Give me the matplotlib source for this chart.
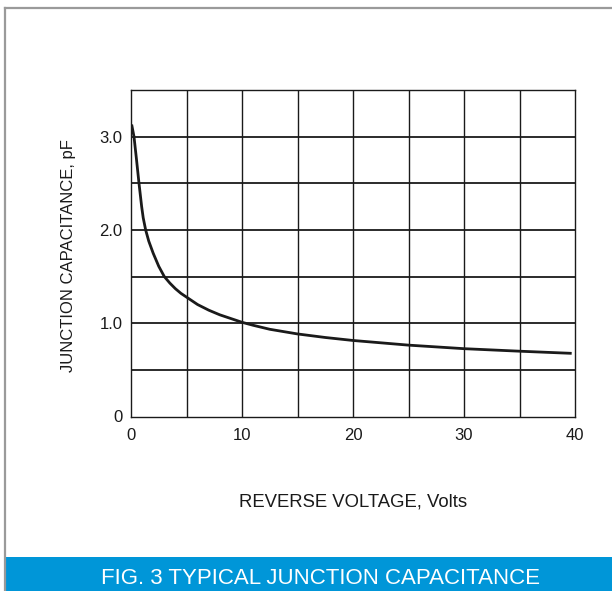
import matplotlib
matplotlib.use("Agg")
import matplotlib.pyplot as plt
from matplotlib.patches import Rectangle
from matplotlib.lines import Line2D

# Data
voltage = [0.06, 0.27, 0.5, 0.72, 0.96, 1.1, 1.32, 1.6, 2.0, 2.5, 3.0, 3.5, 4.0, 4.5,
           5.0, 5.5, 6.0, 7.0, 8.0, 9.0, 10.0, 11.0, 12.5, 15.0, 17.5, 20.0, 25.0,
           30.0, 35.0, 39.7]
capacitance = [3.13, 3.0, 2.75, 2.5, 2.25, 2.13, 2.0, 1.88, 1.75, 1.61, 1.5, 1.43,
               1.37, 1.32, 1.28, 1.24, 1.2, 1.14, 1.09, 1.05, 1.01, 0.978, 0.935, 0.885,
               0.847, 0.815, 0.765, 0.727, 0.70, 0.677]
x_ticks = [0, 10, 20, 30, 40]
x_ticklabels = ["0", "10", "20", "30", "40"]
y_ticks = [0, 1.0, 2.0, 3.0]
y_ticklabels = ["0", "1.0", "2.0", "3.0"]
x_grid = [5, 10, 15, 20, 25, 30, 35]
y_grid = [0.5, 1.0, 1.5, 2.0, 2.5, 3.0]
title = "FIG. 3 TYPICAL JUNCTION CAPACITANCE"
xlabel = "REVERSE VOLTAGE, Volts"
ylabel = "JUNCTION CAPACITANCE, pF"

plt.rcParams['font.family'] = ['Liberation Sans', 'DejaVu Sans']

W, H = 612, 591
fig = plt.figure(figsize=(W / 100, H / 100), dpi=100)

# Outer frame (gray lines top and left)
fig.add_artist(Line2D([5 / W, 5 / W], [0, 1 - 8 / H], transform=fig.transFigure,
                      color="#9a9a9a", lw=1.6))
fig.add_artist(Line2D([5 / W, 1], [1 - 8 / H, 1 - 8 / H], transform=fig.transFigure,
                      color="#9a9a9a", lw=1.6))

# Blue banner
fig.add_artist(Rectangle((6 / W, 0), 1 - 6 / W, 34 / H, transform=fig.transFigure,
                         facecolor="#0096D8", edgecolor="none"))
fig.text((102 + 539) / 2 / W, 13 / H, title, ha="center", va="center", color="white",
         fontsize=16)

ax = fig.add_axes([131 / W, 1 - 416.5 / H, 444 / W, 326.5 / H])
ax.set_xlim(0, 40)
ax.set_ylim(0, 3.5)

for xv in x_grid:
    ax.axvline(xv, color="#1a1a1a", lw=1.0, zorder=1)
for yv in y_grid:
    ax.axhline(yv, color="#1a1a1a", lw=1.3, zorder=1)

ax.plot(voltage, capacitance, color="#1a1a1a", lw=2.0, zorder=3,
        solid_capstyle="butt", solid_joinstyle="round")

for s in ax.spines.values():
    s.set_color("#1a1a1a")
    s.set_linewidth(1.0)

ax.set_xticks(x_ticks)
ax.set_xticklabels(x_ticklabels)
ax.set_yticks(y_ticks)
ax.set_yticklabels(y_ticklabels)
ax.tick_params(axis="both", length=0, labelsize=12, colors="#1a1a1a")
ax.tick_params(axis="x", pad=8)
ax.tick_params(axis="y", pad=6)

fig.text((235 + 472) / 2 / W, 1 - 502 / H, xlabel, ha="center", va="center",
         fontsize=13.3, color="#1a1a1a")
fig.text(68 / W, 1 - 256 / H, ylabel, ha="center", va="center", rotation=90,
         fontsize=12, color="#1a1a1a")

fig.savefig("out.png", dpi=100)
